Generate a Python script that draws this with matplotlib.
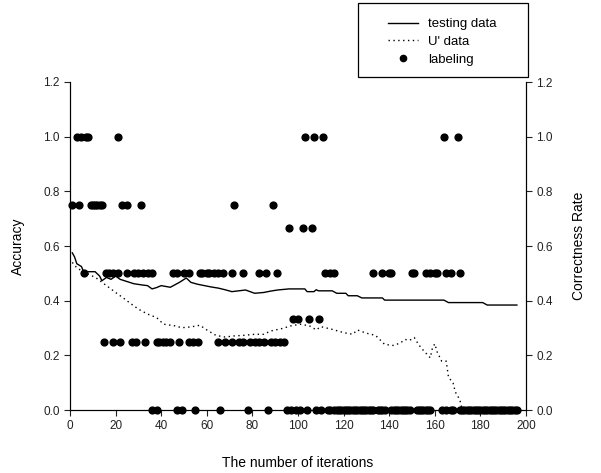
import matplotlib
matplotlib.use("Agg")
import matplotlib.pyplot as plt
from matplotlib.lines import Line2D
from matplotlib.patches import Rectangle

plt.rcParams['font.family'] = ['Liberation Sans', 'DejaVu Sans']

# testing data (solid line)
test_iter = [1, 2, 3, 5, 6, 11, 13, 14, 16, 18, 20, 22, 25, 28, 32, 34, 36, 38, 40, 44,
             48, 51, 53, 56, 59, 62, 65, 68, 71, 74, 77, 81, 85, 88, 91, 96, 103, 104,
             107, 108, 109, 115, 117, 121, 122, 126, 128, 137, 138, 164, 166, 181, 183, 196]
test_acc = [0.575, 0.56, 0.535, 0.525, 0.506, 0.506, 0.49, 0.473, 0.485, 0.478, 0.49, 0.478,
            0.47, 0.462, 0.457, 0.455, 0.443, 0.448, 0.455, 0.449, 0.467, 0.483, 0.467, 0.46,
            0.455, 0.45, 0.446, 0.44, 0.433, 0.436, 0.439, 0.427, 0.43, 0.435, 0.439, 0.443,
            0.443, 0.433, 0.433, 0.44, 0.436, 0.436, 0.427, 0.427, 0.418, 0.418, 0.41, 0.41,
            0.402, 0.402, 0.393, 0.393, 0.384, 0.384]

# U' data (dotted line)
u_iter = [1, 3, 6, 9, 12, 16, 20, 23, 27, 30, 34, 38, 41, 46, 49, 53, 57, 60, 64, 68, 72,
          76, 81, 85, 88, 93, 97, 101, 105, 108, 110, 115, 120, 124, 126, 130, 134, 138, 142,
          145, 147, 149, 151, 153, 155, 158, 159, 160, 161, 163, 165, 166, 168, 169, 171, 172, 196]
u_acc = [0.54, 0.52, 0.505, 0.494, 0.48, 0.455, 0.43, 0.412, 0.387, 0.369, 0.351, 0.338,
         0.314, 0.308, 0.301, 0.304, 0.31, 0.293, 0.273, 0.267, 0.271, 0.273, 0.277, 0.277,
         0.289, 0.298, 0.308, 0.314, 0.308, 0.293, 0.305, 0.295, 0.283, 0.277, 0.293, 0.281,
         0.273, 0.24, 0.236, 0.246, 0.258, 0.255, 0.265, 0.238, 0.218, 0.191, 0.228, 0.242,
         0.213, 0.179, 0.179, 0.12, 0.099, 0.066, 0.037, 0.0, 0.0]

# labeling (correctness rate), iterations for each level
lab_100 = [3, 5, 7, 8, 21, 103, 107, 111, 164, 170]
lab_075 = [1, 4, 9, 10, 11, 12, 13, 14, 23, 25, 31, 72, 89]
lab_067 = [96, 102, 106]
lab_050 = [6, 16, 17, 19, 21, 25, 28, 30, 32, 34, 36, 45, 47, 50, 52, 57, 58, 60, 61, 63,
           65, 67, 71, 76, 83, 86, 91, 112, 114, 116, 133, 137, 140, 141, 150, 151, 156,
           158, 160, 161, 165, 167, 171]
lab_033 = [98, 100, 105, 109]
lab_025 = [15, 19, 22, 27, 29, 33, 38, 39, 41, 42, 44, 48, 52, 54, 56, 65, 68, 71, 74, 76,
           79, 81, 83, 85, 88, 90, 92, 94]
lab_000 = [36, 38, 47, 49, 55, 66, 78, 87, 95, 97, 99, 101, 104, 108, 110, 113, 114,
           116, 117, 118, 119, 120, 121, 122, 123, 124, 125, 126, 127, 128, 129, 130, 131,
           132, 133, 135, 136, 137, 138, 141, 142, 143, 144, 145, 146, 147, 148, 149,
           152, 153, 154, 155, 156, 157, 158, 163, 165, 167, 168,
           171, 172, 173, 174, 175, 176, 177, 178, 179, 180, 181, 182, 183, 184, 185, 186,
           187, 188, 189, 190, 191, 192, 193, 194, 195, 196]

lab_x = []
lab_y = []
for lst, v in [(lab_100, 1.0), (lab_075, 0.75), (lab_067, 0.667), (lab_050, 0.5),
               (lab_033, 0.333), (lab_025, 0.25), (lab_000, 0.0)]:
    lab_x += lst
    lab_y += [v] * len(lst)

fig = plt.figure(figsize=(6.01, 4.73), dpi=100)
ax = fig.add_axes([70 / 601, 1 - 410 / 473, 456 / 601, 328 / 473])
ax2 = ax.twinx()

ax.plot(test_iter, test_acc, color='black', lw=1.0)
ax.plot(u_iter, u_acc, color='black', lw=1.0, linestyle=(0, (1, 2.5)))
ax2.scatter(lab_x, lab_y, s=24, color='black', zorder=3, clip_on=False)

for a in (ax, ax2):
    a.set_xlim(0, 200)
    a.set_ylim(0, 1.2)
    a.set_yticks([0, 0.2, 0.4, 0.6, 0.8, 1.0, 1.2])
    a.spines['top'].set_visible(False)
    a.tick_params(direction='out', length=4, width=0.8, labelsize=8.5, colors='#222222')
ax.set_xticks(range(0, 201, 20))

ax.set_xlabel('The number of iterations', fontsize=10, labelpad=17)
ax.set_ylabel('Accuracy', fontsize=10, labelpad=13)
ax2.set_ylabel('Correctness Rate', fontsize=10, labelpad=14)

# legend box drawn by hand, legend itself without frame
fig.patches.append(Rectangle((358 / 601, 1 - 77 / 473), 170 / 601, 74 / 473,
                             transform=fig.transFigure, fill=False,
                             edgecolor='black', lw=0.9))
handles = [Line2D([], [], color='black', lw=1.0),
           Line2D([], [], color='black', lw=1.0, linestyle=(0, (1, 2.5))),
           Line2D([], [], color='black', marker='o', markersize=4.5, linestyle='none')]
fig.legend(handles, ['testing data', "U' data", 'labeling'],
           loc='upper left', bbox_to_anchor=(388 / 601, 1 - 18 / 473),
           fontsize=9.5, frameon=False, borderpad=0, labelspacing=0.42,
           handlelength=2.3, handletextpad=0.75, borderaxespad=0)

fig.savefig('out.png', dpi=100)
